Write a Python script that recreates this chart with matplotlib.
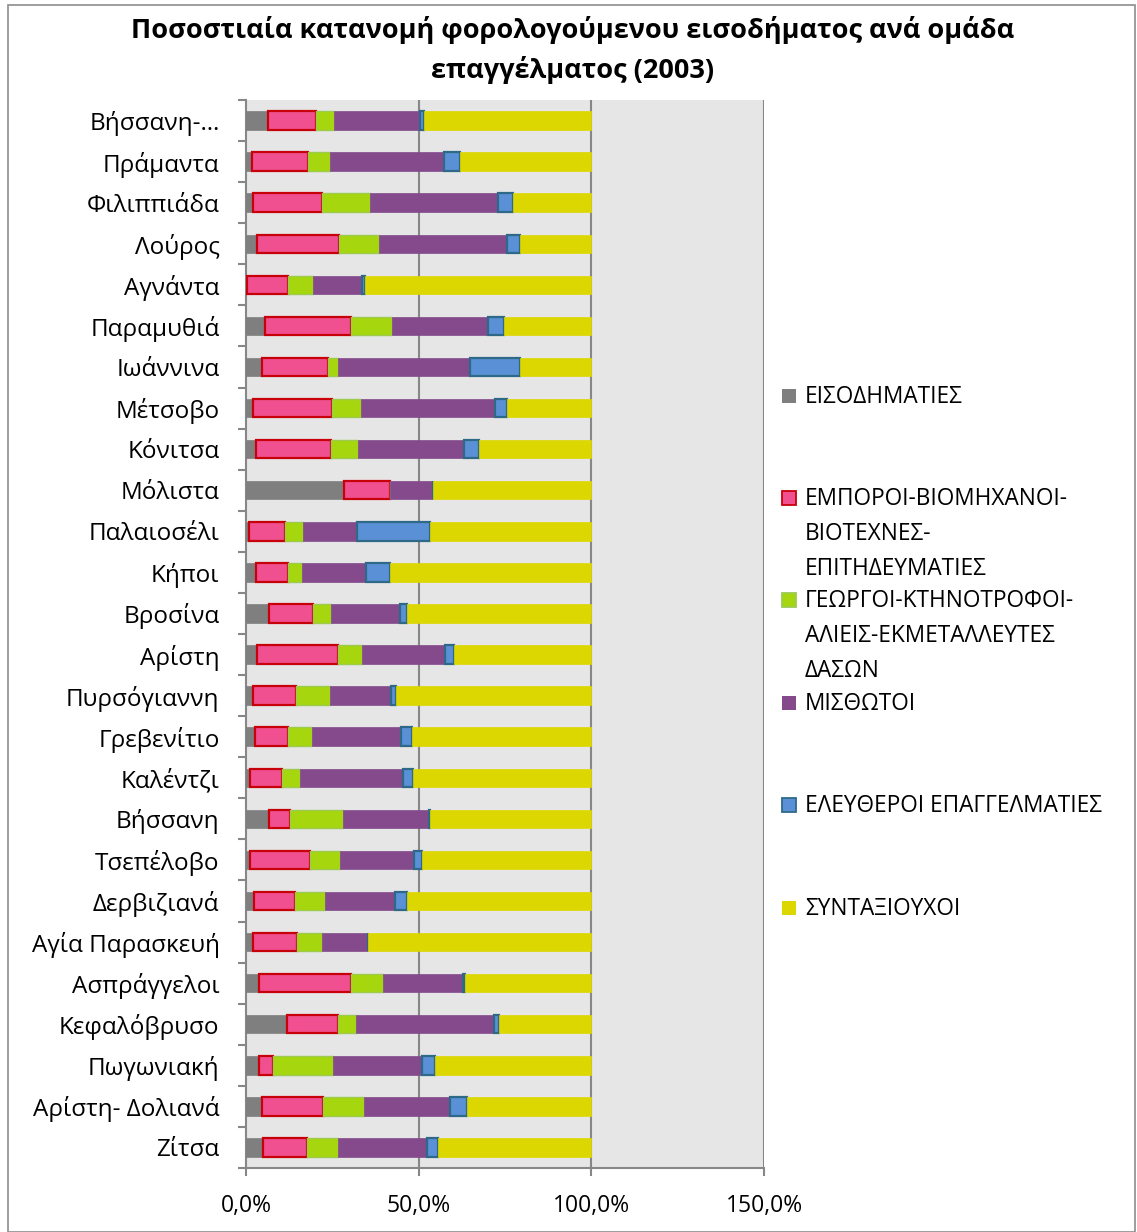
import matplotlib
matplotlib.use("Agg")
import matplotlib.pyplot as plt
from matplotlib.patches import Rectangle
import numpy as np

plt.rcParams['font.family'] = ['Open Sans', 'DejaVu Sans']

categories = ["Βήσσανη-…", "Πράμαντα", "Φιλιππιάδα", "Λούρος", "Αγνάντα", "Παραμυθιά",
              "Ιωάννινα", "Μέτσοβο", "Κόνιτσα", "Μόλιστα", "Παλαιοσέλι", "Κήποι",
              "Βροσίνα", "Αρίστη", "Πυρσόγιαννη", "Γρεβενίτιο", "Καλέντζι", "Βήσσανη",
              "Τσεπέλοβο", "Δερβιζιανά", "Αγία Παρασκευή", "Ασπράγγελοι", "Κεφαλόβρυσο",
              "Πωγωνιακή", "Αρίστη- Δολιανά", "Ζίτσα"]

eisodimaties = [6.5, 1.8, 1.9, 3.1, 0.3, 5.6, 4.6, 2.1, 2.8, 28.4, 1.0, 2.8, 6.6,
                3.1, 2.0, 2.7, 1.2, 6.6, 1.3, 2.4, 2.0, 3.9, 11.9, 3.9, 4.6, 4.8]
emporoi = [13.8, 16.2, 20.1, 23.7, 11.9, 24.8, 19.2, 22.7, 21.7, 13.2, 10.2, 9.4, 12.7,
           23.4, 12.4, 9.4, 9.3, 6.2, 17.2, 11.8, 12.9, 26.5, 14.7, 3.9, 17.6, 13.0]
georgoi = [5.3, 6.2, 13.9, 11.7, 7.2, 11.8, 2.7, 8.4, 7.8, 0.0, 5.2, 4.0, 5.3,
           7.0, 9.9, 7.1, 5.0, 15.4, 8.6, 8.8, 7.1, 9.2, 5.3, 17.3, 11.9, 8.7]
misthotoi = [24.8, 33.2, 37.0, 37.0, 14.3, 27.9, 38.5, 38.8, 30.7, 12.6, 15.7, 18.5, 19.9,
             24.0, 17.6, 25.8, 30.0, 24.7, 21.5, 20.1, 13.3, 23.1, 40.0, 25.8, 25.0, 26.0]
eleftheroi = [1.0, 4.5, 4.5, 3.8, 0.8, 4.6, 14.2, 3.7, 4.6, 0.0, 21.3, 7.1, 2.0,
              2.8, 1.4, 3.0, 3.0, 0.3, 2.5, 3.5, 0.1, 0.8, 1.4, 3.8, 4.8, 3.2]
syntaxiouxoi = [48.6, 38.1, 22.6, 20.7, 65.5, 25.3, 20.8, 24.3, 32.4, 45.8, 46.6, 58.2, 53.5,
                39.7, 56.7, 52.0, 51.5, 46.8, 48.9, 53.4, 64.6, 36.5, 26.7, 45.3, 36.1, 44.3]

series_names = ["ΕΙΣΟΔΗΜΑΤΙΕΣ",
                "ΕΜΠΟΡΟΙ-ΒΙΟΜΗΧΑΝΟΙ-\nΒΙΟΤΕΧΝΕΣ-\nΕΠΙΤΗΔΕΥΜΑΤΙΕΣ",
                "ΓΕΩΡΓΟΙ-ΚΤΗΝΟΤΡΟΦΟΙ-\nΑΛΙΕΙΣ-ΕΚΜΕΤΑΛΛΕΥΤΕΣ\nΔΑΣΩΝ",
                "ΜΙΣΘΩΤΟΙ",
                "ΕΛΕΥΘΕΡΟΙ ΕΠΑΓΓΕΛΜΑΤΙΕΣ",
                "ΣΥΝΤΑΞΙΟΥΧΟΙ"]
xticks = [0, 50, 100, 150]
xticklabels = ["0,0%", "50,0%", "100,0%", "150,0%"]
title = "Ποσοστιαία κατανομή φορολογούμενου εισοδήματος ανά ομάδα\nεπαγγέλματος (2003)"

faces = ["#7F7F7F", "#F05090", "#A6D60E", "#844A8C", "#5A90D6", "#DCD700"]
edges = ["#7F7F7F", "#C8000A", "#9CCB50", "#844A8C", "#2E6A88", "#DCD700"]
lws = [0.5, 1.6, 1.0, 0.5, 1.6, 0.5]

W, H = 1137, 1232
fig = plt.figure(figsize=(W / 100, H / 100), dpi=100)
fig.patches.append(Rectangle((8 / W, 0), (1135 - 8) / W, (H - 5) / H, transform=fig.transFigure,
                             fill=False, edgecolor="#8C8C8C", lw=1.2))

ax = fig.add_axes([246 / W, 1 - 1168 / H, (764 - 246) / W, (1168 - 100) / H])
ax.set_facecolor("#E6E6E6")

y = np.arange(len(categories))
data = [eisodimaties, emporoi, georgoi, misthotoi, eleftheroi, syntaxiouxoi]
left = np.zeros(len(categories))
for vals, fc, ec, lw in zip(data, faces, edges, lws):
    v = np.array(vals)
    ax.barh(y, v, left=left, height=0.45, color=fc, edgecolor=ec, linewidth=lw, zorder=3)
    left += v

ax.set_xlim(0, 150)
ax.set_ylim(len(categories) - 0.5, -0.5)
ax.set_xticks(xticks)
ax.set_xticklabels(xticklabels, fontsize=16.5)
for xv in xticks[1:]:
    ax.axvline(xv, color="#878787", lw=1.5, zorder=1)

ax.set_yticks(y)
ax.set_yticklabels(categories, fontsize=17.5)
ax.set_yticks(np.arange(len(categories) + 1) - 0.5, minor=True)
ax.tick_params(axis='y', which='major', length=0, pad=19)
ax.tick_params(axis='y', which='minor', length=6, color="#878787", width=1.5)
ax.tick_params(axis='x', length=6, color="#878787", width=1.5, pad=13)

for s in ["top", "right"]:
    ax.spines[s].set_visible(False)
for s in ["left", "bottom"]:
    ax.spines[s].set_color("#878787")
    ax.spines[s].set_linewidth(1.5)

fig.text(573 / W, 1 - 50 / H, title, ha="center", va="center", fontsize=19.5,
         fontweight="bold", linespacing=1.55)

# legend (manual)
leg_y = [396, 498, 600, 703, 805, 908]
for name, fc, ec, ly in zip(series_names, faces, edges, leg_y):
    fig.patches.append(Rectangle((782 / W, 1 - (ly + 7) / H), 14 / W, 14 / H,
                                 transform=fig.transFigure, facecolor=fc, edgecolor=ec,
                                 lw=1.3 if ec != fc else 0))
    fig.text(805 / W, 1 - (ly - 11) / H, name, ha="left", va="top", fontsize=16.3,
             linespacing=1.6)

fig.savefig("out.png", dpi=100)
